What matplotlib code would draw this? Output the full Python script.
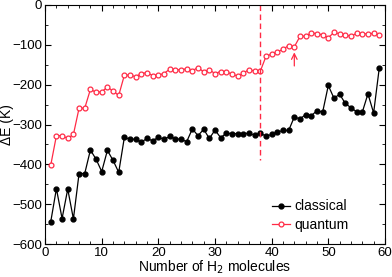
import matplotlib
matplotlib.use('Agg')
import matplotlib.pyplot as plt
from matplotlib.ticker import MultipleLocator

plt.rcParams['font.family'] = ['Liberation Sans', 'DejaVu Sans']

n = list(range(1, 60))

classical = [-544, -461, -536, -462, -537, -423, -423, -364, -387, -418,
             -365, -390, -420, -332, -337, -337, -344, -335, -341, -332,
             -337, -330, -336, -337, -343, -311, -328, -312, -335, -314,
             -333, -322, -323, -323, -323, -322, -327, -322, -329, -325,
             -319, -315, -315, -281, -286, -275, -278, -265, -269, -202,
             -234, -224, -247, -258, -268, -269, -223, -271, -158]

quantum = [-402, -328, -328, -335, -325, -259, -259, -212, -219, -218,
           -206, -216, -227, -176, -176, -180, -172, -170, -177, -176,
           -172, -161, -162, -163, -160, -165, -157, -168, -163, -172,
           -167, -167, -174, -178, -171, -162, -166, -166, -129, -123,
           -118, -111, -102, -105, -79, -78, -70, -72, -75, -82,
           -69, -72, -76, -78, -71, -72, -73, -71, -75]

red = '#ff2a45'

fig = plt.figure(figsize=(3.92, 2.77), dpi=100)
ax = fig.add_axes([0.115, 0.119, 0.867, 0.863])

ax.plot(n, classical, '-o', color='black', lw=0.9, ms=3.5, label='classical')
ax.plot(n, quantum, '-o', color=red, lw=0.9, ms=3.5, mfc='white', mec=red,
        mew=0.9, label='quantum')

ax.plot([38, 38], [0, -390], '--', color=red, lw=1.0, dashes=(4, 2.5))
ax.annotate('', xy=(44, -112), xytext=(44, -160),
            arrowprops=dict(arrowstyle='->', color=red, lw=0.9))

ax.set_xlim(0, 60)
ax.set_ylim(-600, 0)
ax.xaxis.set_major_locator(MultipleLocator(10))
ax.xaxis.set_minor_locator(MultipleLocator(2))
ax.yaxis.set_major_locator(MultipleLocator(100))
ax.yaxis.set_minor_locator(MultipleLocator(50))
ax.tick_params(which='both', direction='in', top=True, right=True, labelsize=9.5)
ax.tick_params(which='major', length=4, pad=2)
ax.tick_params(which='minor', length=2)
ax.set_xlabel('Number of H$_2$ molecules', fontsize=10, labelpad=0)
ax.set_ylabel('ΔE (K)', fontsize=10)
ax.yaxis.set_label_coords(-0.09, 0.5)

ax.legend(loc='lower right', bbox_to_anchor=(0.93, 0.0), frameon=False,
          fontsize=10, handlelength=1.3, handletextpad=0.3, labelspacing=0.3)

fig.savefig('out.png', dpi=100)
